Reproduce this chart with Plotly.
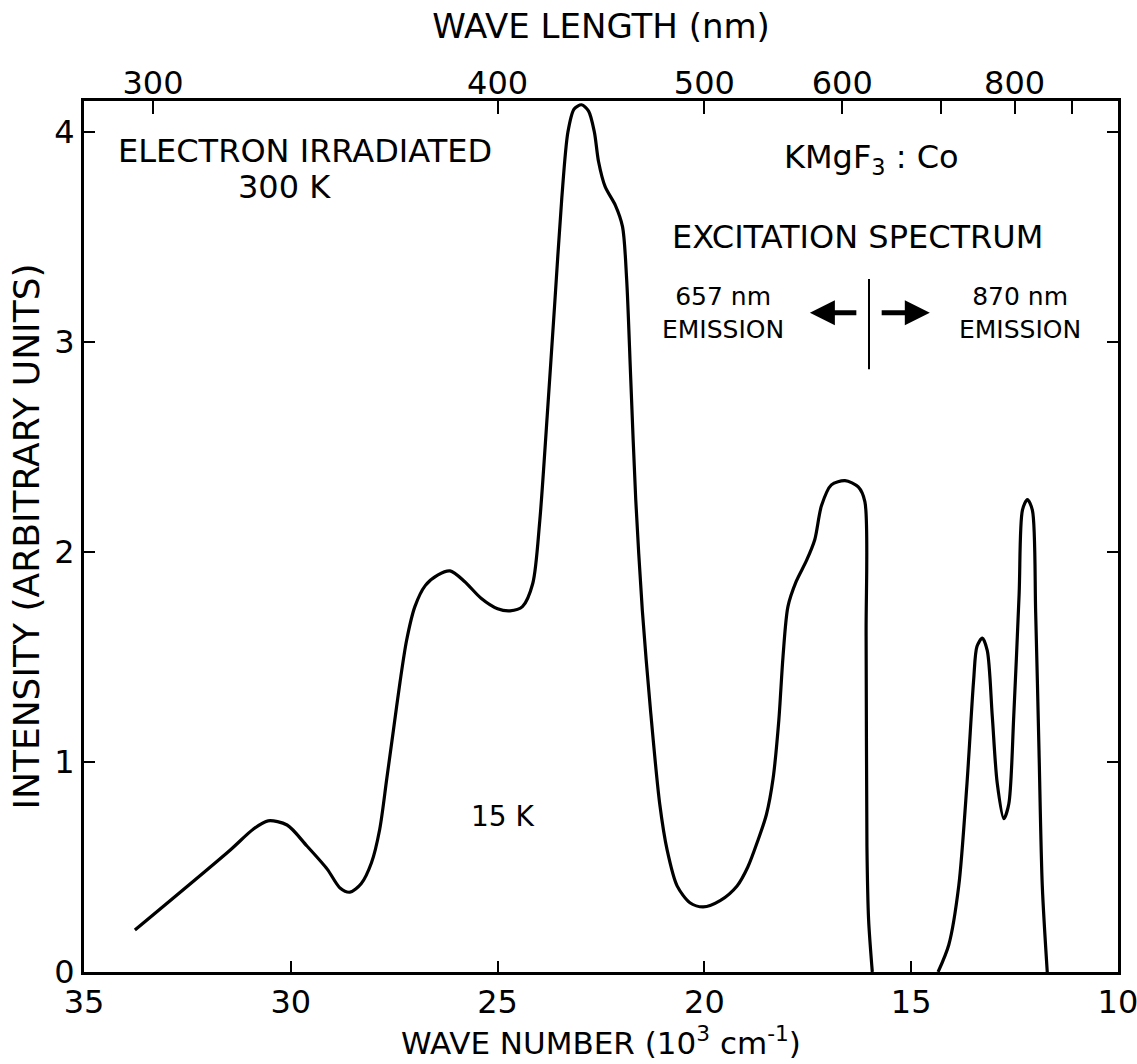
import plotly.graph_objects as go

# Excitation spectrum of electron-irradiated KMgF3:Co at 15 K
# wave number in 10^3 cm^-1, intensity in arbitrary units

# band probed with 657 nm emission (high wave-number side)
wn_657 = [33.77, 31.47, 30.91, 30.55, 30.09, 29.61, 29.12, 28.81, 28.57,
          28.30, 28.05, 27.85, 27.68, 27.52, 27.36, 27.20, 27.00, 26.75, 26.45,
          26.15, 25.80, 25.40, 25.00, 24.70, 24.40, 24.15, 23.98, 23.80, 23.62,
          23.45, 23.30, 23.15, 22.97, 22.80, 22.66, 22.56, 22.40, 22.15, 21.98,
          21.88, 21.78, 21.66, 21.50, 21.30, 21.08, 20.90, 20.66, 20.35, 20.03,
          19.62, 19.21, 18.95, 18.70, 18.50, 18.34, 18.20, 18.10, 17.98, 17.78,
          17.53, 17.33, 17.17, 16.93, 16.60, 16.28, 16.12, 16.09, 16.07, 16.03,
          15.94]
int_657 = [0.20, 0.58, 0.68, 0.72, 0.70, 0.60, 0.49, 0.40, 0.38,
           0.42, 0.52, 0.68, 0.92, 1.15, 1.38, 1.58, 1.74, 1.84, 1.89,
           1.91, 1.86, 1.78, 1.73, 1.72, 1.74, 1.85, 2.15, 2.65, 3.18,
           3.68, 4.00, 4.11, 4.13, 4.10, 4.00, 3.86, 3.74, 3.65, 3.55,
           3.30, 2.82, 2.25, 1.72, 1.24, 0.80, 0.58, 0.41, 0.33, 0.31,
           0.34, 0.41, 0.50, 0.63, 0.75, 0.92, 1.20, 1.50, 1.74, 1.86,
           1.96, 2.06, 2.22, 2.32, 2.34, 2.31, 2.24, 1.60, 0.60, 0.25,
           0.00]

# bands probed with 870 nm emission (low wave-number side)
wn_870 = [14.35, 14.09, 13.85, 13.65, 13.49, 13.41, 13.28, 13.16, 13.04, 12.92,
          12.76, 12.64, 12.52, 12.39, 12.31, 12.19, 12.07, 11.99, 11.91, 11.83,
          11.71]
int_870 = [0.00, 0.13, 0.41, 0.90, 1.39, 1.55, 1.59, 1.53, 1.22, 0.90,
           0.73, 0.80, 1.22, 1.80, 2.20, 2.25, 2.20, 1.71, 1.06, 0.41,
           0.00]

# axis ticks
wn_ticks = [35, 30, 25, 20, 15, 10]
int_ticks = [0, 1, 2, 3, 4]
wl_ticks_nm = [300, 400, 500, 600, 700, 800, 900]
wl_labels = ["300", "400", "500", "600", "", "800", ""]

FONT = "DejaVu Sans"
INK = "black"

fig = go.Figure()
for xs, ys in ((wn_657, int_657), (wn_870, int_870)):
    fig.add_trace(go.Scatter(
        x=xs, y=ys, mode="lines",
        line=dict(color=INK, width=3.2, shape="spline", smoothing=0.8),
        showlegend=False, hoverinfo="skip",
    ))

# carrier trace for the wavelength axis on top
fig.add_trace(go.Scatter(
    x=[1e4 / nm for nm in wl_ticks_nm], y=[None] * len(wl_ticks_nm),
    xaxis="x2", yaxis="y", mode="lines", showlegend=False, hoverinfo="skip",
))

fig.update_layout(
    width=1137, height=1064,
    margin=dict(l=84, r=19, t=101, b=92, autoexpand=False),
    paper_bgcolor="white", plot_bgcolor="white",
    font=dict(family=FONT, color=INK, size=30),
    xaxis=dict(
        range=[35.0005, 9.9995], tickvals=wn_ticks, ticktext=[str(v) for v in wn_ticks],
        ticks="inside", ticklen=11, tickwidth=2, tickcolor=INK,
        ticklabeloverflow="allow", automargin=False,
        showline=True, linewidth=2.8, linecolor=INK, mirror=True,
        showgrid=False, zeroline=False,
        tickfont=dict(size=32),
        title=dict(text="WAVE NUMBER (10<sup>3</sup> cm<sup>-1</sup>)",
                   font=dict(size=31), standoff=6),
    ),
    xaxis2=dict(
        overlaying="x", side="top", anchor="y", automargin=False,
        range=[35.0005, 9.9995], tickvals=[1e4 / nm for nm in wl_ticks_nm],
        ticktext=wl_labels,
        ticks="inside", ticklen=13, tickwidth=2, tickcolor=INK,
        showline=False, showgrid=False, zeroline=False,
        tickfont=dict(size=32),
        title=dict(text="WAVE LENGTH (nm)", font=dict(size=34), standoff=14),
    ),
    yaxis=dict(
        range=[0, 4.148], tickvals=int_ticks, ticktext=[str(v) for v in int_ticks],
        ticks="inside", ticklen=11, tickwidth=2, tickcolor=INK, automargin=False,
        showline=True, linewidth=2.8, linecolor=INK, mirror="ticks",
        showgrid=False, zeroline=False,
        tickfont=dict(size=32),
        title=dict(text="INTENSITY (ARBITRARY UNITS)", font=dict(size=36), standoff=4),
    ),
)

notes = [
    (29.66, 3.91, "ELECTRON IRRADIATED", 32),
    (30.15, 3.74, "300 K", 32),
    (24.87, 0.74, "15 K", 28),
    (15.97, 3.87, "KMgF<sub>3</sub> : Co", 32),
    (16.31, 3.50, "EXCITATION SPECTRUM", 32),
    (19.55, 3.14, "657 nm<br>EMISSION", 25),
    (12.37, 3.14, "870 nm<br>EMISSION", 25),
]
for x, y, text, size in notes:
    fig.add_annotation(x=x, y=y, xref="x", yref="y", text=text, showarrow=False,
                       font=dict(size=size, family=FONT, color=INK))

# divider between the two emission regions
fig.add_shape(type="line", xref="x", yref="y", x0=16.02, x1=16.02, y0=2.87, y1=3.30,
              line=dict(color=INK, width=2))

# arrows pointing to each region
for tail, head in ((16.29, 17.45), (15.75, 14.55)):
    fig.add_annotation(x=head, y=3.14, ax=tail, ay=3.14, xref="x", yref="y",
                       axref="x", ayref="y", text="", showarrow=True,
                       arrowhead=2, arrowsize=1.0, arrowwidth=5, arrowcolor=INK)

fig.write_html("out.html")
